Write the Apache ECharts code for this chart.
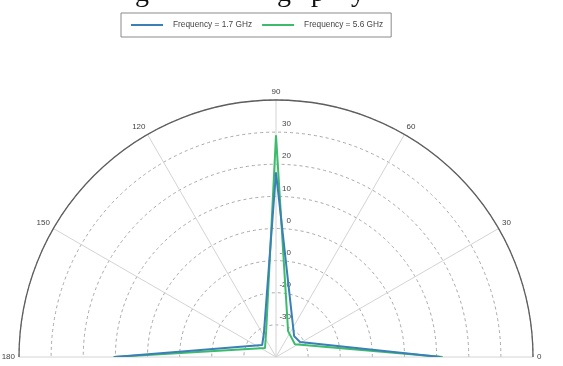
<!DOCTYPE html>
<html>
<head>
<meta charset="utf-8">
<script src="https://cdn.jsdelivr.net/npm/echarts@6/dist/echarts.min.js"></script>
<style>
  html, body { margin: 0; padding: 0; background: #ffffff; }
  #chart { width: 563px; height: 366px; }
</style>
</head>
<body>
<div id="chart"></div>
<script>
// Elevation cut of the antenna gain, angle in degrees, gain in dB
const seriesNames = ['Frequency = 1.7 GHz', 'Frequency = 5.6 GHz'];

const anglesLow = [0, 32, 49, 90, 117, 139, 180];
const gainLow   = [11.2, -31.2, -31.4, 17.5, -31.7, -34.3, 10.4];

const anglesHigh = [0, 34, 65, 90, 110, 141, 180];
const gainHigh   = [11.9, -32.9, -31.1, 29, -31.1, -35.6, 10.6];

const angleTicks = [0, 30, 60, 90, 120, 150, 180];
const radiusTicks = [-40, -30, -20, -10, 0, 10, 20, 30, 40];

const colors = ['#3a7fb6', '#3dbb6c'];

// Bottom edge of the caption line running above the figure
const captionGlyphs = [
  { ch: 'g', x: 135 },
  { ch: 'g', x: 277 },
  { ch: 'p', x: 311 },
  { ch: 'y', x: 351 }
];

function pairs(angles, gains) {
  return angles.map((a, i) => [gains[i], a]);
}

const chart = echarts.init(document.getElementById('chart'), null, { renderer: 'canvas' });

const center = [276, 357];
const outer = 257;
const rMin = radiusTicks[0];
const rMax = radiusTicks[radiusTicks.length - 1];

chart.setOption({
  animation: false,
  backgroundColor: '#ffffff',
  graphic: captionGlyphs.map(g => ({
    type: 'text',
    x: g.x,
    y: 8,
    silent: true,
    style: {
      text: g.ch,
      fontFamily: 'Liberation Serif',
      fontSize: 28,
      fill: '#111',
      verticalAlign: 'bottom'
    }
  })),
  legend: {
    top: 13,
    left: 121,
    data: seriesNames.map(n => ({ name: n, icon: 'rect' })),
    selectedMode: false,
    borderColor: '#8a8a8a',
    borderWidth: 1,
    padding: [8, 8, 8, 10],
    itemGap: 10,
    itemWidth: 32,
    itemHeight: 2,
    textStyle: { fontFamily: 'Liberation Sans, Arial', fontSize: 8.3, color: '#444', padding: [0, 0, 0, 5] }
  },
  polar: [
    { center: center, radius: outer },
    { center: center, radius: outer }
  ],
  angleAxis: [
    {
      polarIndex: 0,
      type: 'value',
      min: angleTicks[0],
      max: angleTicks[angleTicks.length - 1],
      interval: 30,
      startAngle: 0,
      endAngle: 180,
      clockwise: false,
      axisLine: { show: true, lineStyle: { color: '#5e5e5e', width: 1.3 } },
      axisTick: { show: false },
      axisLabel: { show: true, margin: 4, fontFamily: 'Liberation Sans, Arial', fontSize: 8, color: '#444' },
      splitLine: { show: true, lineStyle: { color: '#d4d4d4', width: 1 } }
    },
    {
      polarIndex: 1,
      type: 'value',
      min: 0,
      max: 360,
      startAngle: 90,
      show: false
    }
  ],
  radiusAxis: [
    {
      polarIndex: 0,
      type: 'value',
      min: rMin,
      max: rMax,
      interval: 10,
      axisLine: { show: false },
      axisTick: { show: false },
      axisLabel: { show: false },
      splitLine: { show: true, lineStyle: { color: '#a8a8a8', width: 1, type: [3, 3] } }
    },
    {
      polarIndex: 1,
      type: 'value',
      min: rMin,
      max: rMax,
      interval: 10,
      axisLine: { show: false },
      axisTick: { show: false },
      splitLine: { show: false },
      axisLabel: {
        show: true,
        margin: -15,
        verticalAlign: 'bottom',
        padding: [0, 0, 4, 0],
        fontFamily: 'Liberation Sans, Arial',
        fontSize: 8,
        color: '#444',
        formatter: v => (v === rMin || v === rMax) ? '' : String(v)
      }
    }
  ],
  series: [
    {
      name: seriesNames[0],
      type: 'line',
      coordinateSystem: 'polar',
      polarIndex: 0,
      symbol: 'none',
      color: colors[0],
      lineStyle: { width: 2, color: colors[0] },
      data: pairs(anglesLow, gainLow),
      z: 3
    },
    {
      name: seriesNames[1],
      type: 'line',
      coordinateSystem: 'polar',
      polarIndex: 0,
      symbol: 'none',
      color: colors[1],
      lineStyle: { width: 2, color: colors[1] },
      data: pairs(anglesHigh, gainHigh),
      z: 2
    }
  ]
});
</script>
</body>
</html>
